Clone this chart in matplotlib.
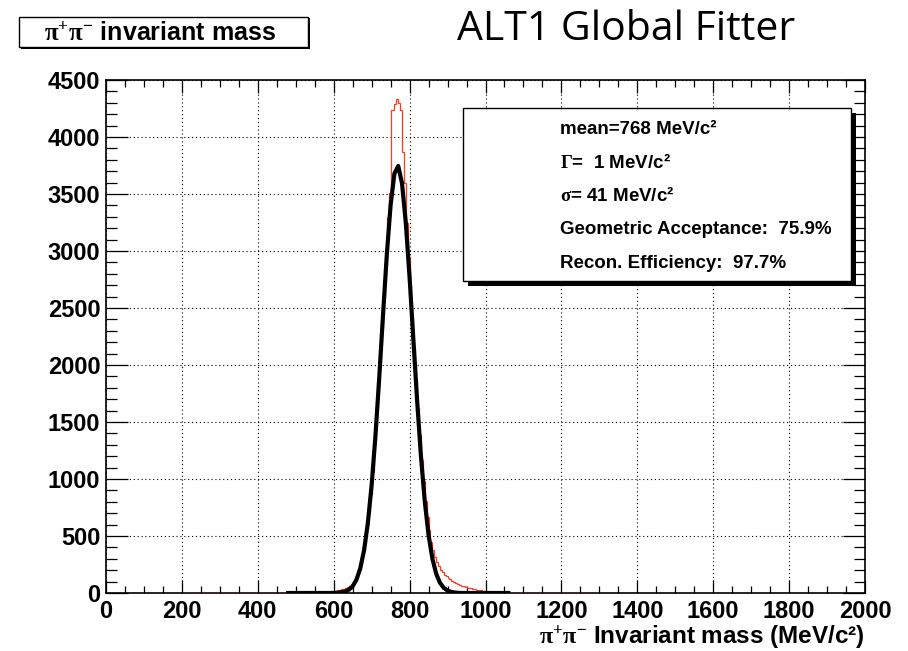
import numpy as np
import matplotlib
matplotlib.use("Agg")
import matplotlib.pyplot as plt
from matplotlib.patches import Rectangle
from matplotlib.ticker import MultipleLocator

plt.rcParams['font.family'] = ['Liberation Sans', 'DejaVu Sans']
plt.rcParams['font.weight'] = 'bold'
plt.rcParams['mathtext.fontset'] = 'custom'
plt.rcParams['mathtext.rm'] = 'Liberation Serif'
plt.rcParams['mathtext.it'] = 'Liberation Serif:italic'
plt.rcParams['mathtext.bf'] = 'Liberation Serif:bold'

# histogram: 5 MeV bins from 200 to 1300 MeV/c^2
hist_lo = 200
bin_w = 5
counts = [0] * 68 + [
    1, 1, 1, 2, 2, 3, 4, 5, 6, 8, 10, 12,
    15, 18, 22, 27, 32, 38, 45, 52, 60, 72,
    90, 115, 152, 200, 262, 340, 440, 560, 700, 870,
    1060, 1280, 1520, 1780, 2050, 2330, 2600, 2900, 3300, 3510,
    4240, 4240, 4290, 4330, 4300, 4240, 3870, 3600, 3250, 2950,
    2700, 2420, 2150, 1880, 1620, 1390, 1170, 980, 810, 670,
    550, 450, 380, 320, 270, 235, 205, 180, 160, 145,
    132, 120, 108, 98, 88, 80, 72, 65, 58, 53,
    48, 44, 40, 36, 32, 29, 26, 23, 21, 19,
    17, 15, 13, 11, 10, 9, 8, 7, 6, 6,
    5, 5, 4, 4, 3, 3, 3, 2, 2, 2,
    1, 1, 0, 1, 1, 0, 1, 0, 1, 1, 0, 1, 0, 0, 1, 0, 1, 0, 0, 1,
    0, 0, 1, 0, 0, 1, 0, 0, 0, 1, 0, 0, 0, 1, 0, 0, 0, 0, 0, 1,
]

# fitted curve read every 10 MeV from 480 to 1060
fit_lo = 480
fit_step = 10
fit_vals = [0] * 12 + [
    1, 2, 6, 13, 29, 59, 117, 216, 375, 614,
    948, 1378, 1890, 2441, 2970, 3405, 3679, 3746, 3593, 3247,
    2766, 2220, 1678, 1196, 802, 507, 302, 170, 90, 45,
    21, 9, 4, 1,
] + [0] * 13

stats_lines = [
    "mean=768 MeV/c²",
    r"$\mathrm{\Gamma}$=  1 MeV/c²",
    r"$\mathrm{\sigma}$= 41 MeV/c²",
    "Geometric Acceptance:  75.9%",
    "Recon. Efficiency:  97.7%",
]

W, H = 908, 651
def fx(x):
    return x / W
def fy(y):
    return 1 - y / H

fig = plt.figure(figsize=(W / 100, H / 100), dpi=100)
ax = fig.add_axes([fx(106), fy(593), 759 / W, 513 / H])

edges = hist_lo + bin_w * np.arange(len(counts) + 1)
ax.stairs(counts, edges, color='#ff3b1f', linewidth=0.9, zorder=3)
fx_pts = fit_lo + fit_step * np.arange(len(fit_vals))
ax.plot(fx_pts, fit_vals, color='black', linewidth=3, zorder=4,
        solid_joinstyle='round')

ax.set_xlim(0, 2000)
ax.set_ylim(0, 4500)
ax.xaxis.set_major_locator(MultipleLocator(200))
ax.xaxis.set_minor_locator(MultipleLocator(50))
ax.yaxis.set_major_locator(MultipleLocator(500))
ax.yaxis.set_minor_locator(MultipleLocator(100))
ax.grid(which='major', color='black', linestyle=(0, (1, 2.5)), linewidth=0.8)
ax.tick_params(which='both', direction='in', top=True, right=True, width=0.9)
ax.tick_params(axis='x', which='major', length=9.5, labelsize=17, pad=5)
ax.tick_params(axis='x', which='minor', length=5)
ax.tick_params(axis='y', which='major', length=16, labelsize=17, pad=4)
ax.tick_params(axis='y', which='minor', length=8)
for s in ax.spines.values():
    s.set_linewidth(1.2)

fig.text(fx(865), fy(636), r"$\mathrm{\pi^{+}\pi^{-}}$ Invariant mass (MeV/c²)",
         ha='right', va='center', fontsize=17.5, fontweight='bold')

# title box (ROOT style with shadow)
fig.add_artist(Rectangle((fx(21), fy(49)), (308 - 19) / W, (48 - 17) / H,
                         transform=fig.transFigure, facecolor='black',
                         edgecolor='none', zorder=5))
fig.add_artist(Rectangle((fx(19), fy(47)), (308 - 19) / W, (47 - 17) / H,
                         transform=fig.transFigure, facecolor='white',
                         edgecolor='black', linewidth=1.0, zorder=6))
fig.text(fx(160), fy(33), r"$\mathrm{\pi^{+}\pi^{-}}$ invariant mass",
         ha='center', va='center', fontsize=18, fontweight='bold', zorder=7)

fig.text(fx(626), fy(30), "ALT1 Global Fitter", ha='center', va='center',
         fontsize=29.5, fontweight='normal', family='Open Sans')

# stats box
fig.add_artist(Rectangle((fx(468), fy(286)), (851 - 463) / W, (281 - 108) / H,
                         transform=fig.transFigure, facecolor='black',
                         edgecolor='none', zorder=5))
fig.add_artist(Rectangle((fx(463), fy(281)), (851 - 463) / W, (281 - 108) / H,
                         transform=fig.transFigure, facecolor='white',
                         edgecolor='black', linewidth=1.0, zorder=6))
for i, line in enumerate(stats_lines):
    fig.text(fx(560), fy(129 + 33.5 * i), line, ha='left', va='center',
             fontsize=13.5, fontweight='bold', zorder=7)

fig.savefig("out.png", dpi=100)
